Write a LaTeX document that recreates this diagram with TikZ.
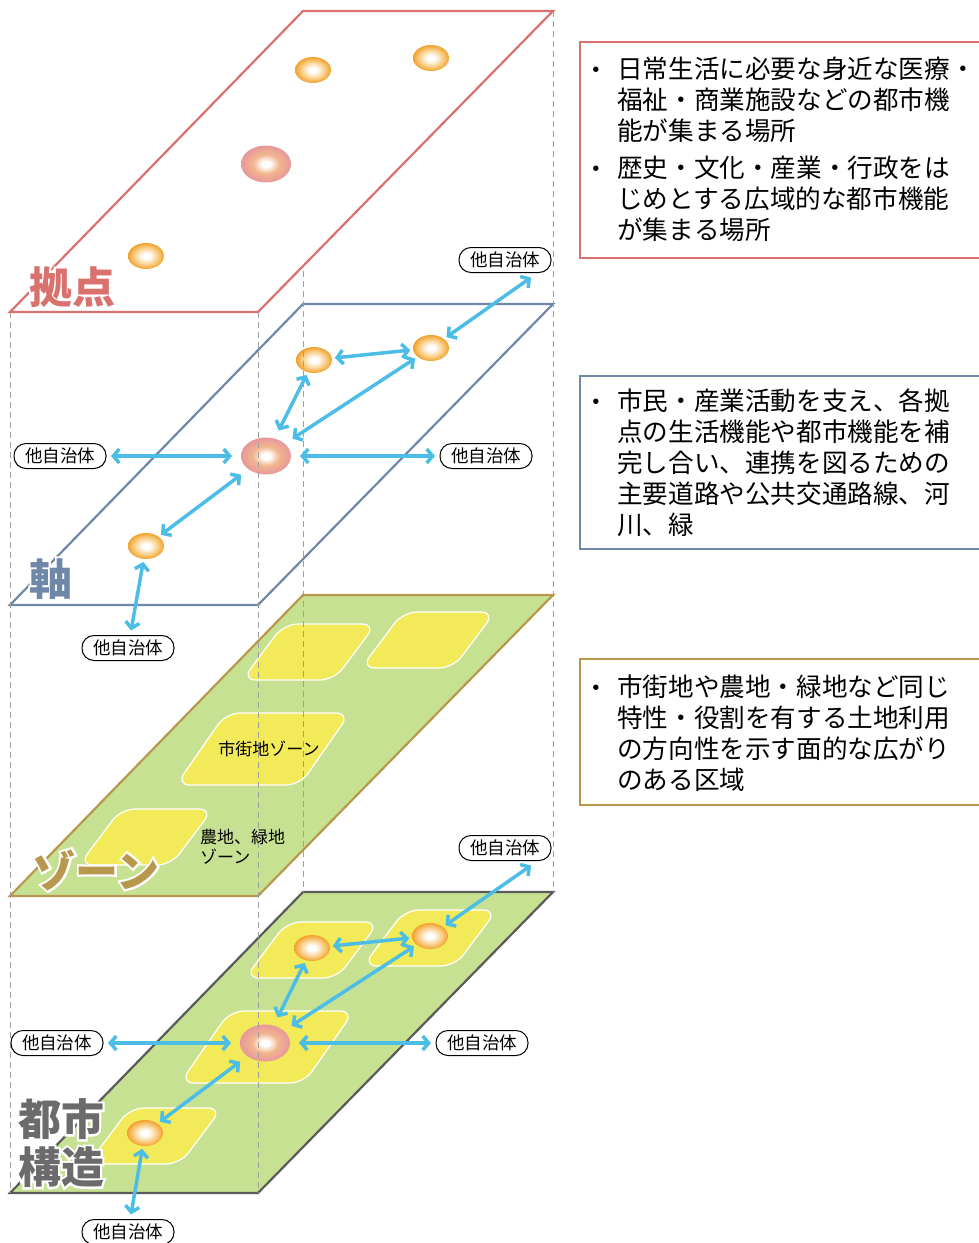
\documentclass[tikz,border=0pt]{standalone}
\usepackage{fontspec}
\setmainfont{Noto Sans CJK JP}
\newfontfamily\halofont{Noto Sans CJK JP}[FakeBold=10]
\usepackage{xcolor}
\usepackage{tikz}
\usetikzlibrary{positioning}
\usetikzlibrary{shapes.geometric, arrows.meta}

\definecolor{hubred}{HTML}{D9716F}
\definecolor{axisblue}{HTML}{7088A8}
\definecolor{zonegold}{HTML}{B8984C}
\definecolor{citygray}{HTML}{5A5A5A}
\definecolor{titlegray}{HTML}{6B6B6B}
\definecolor{cityfill}{HTML}{C7E193}
\definecolor{zoneyellow}{HTML}{F2EA58}
\definecolor{linkblue}{HTML}{4BBDE6}
\definecolor{orangeout}{HTML}{F3A12C}
\definecolor{orangemid}{HTML}{F8CB80}
\definecolor{pinkout}{HTML}{E7979B}
\definecolor{pinkmid}{HTML}{F2B68E}

\pgfdeclareradialshading{orangeball}{\pgfpoint{0bp}{0bp}}{color(0bp)=(white); color(5bp)=(white); color(17bp)=(orangemid); color(25bp)=(orangeout); color(50bp)=(orangeout)}
\pgfdeclareradialshading{pinkball}{\pgfpoint{0bp}{0bp}}{color(0bp)=(white); color(4bp)=(white); color(13bp)=(pinkmid); color(25bp)=(pinkout); color(50bp)=(pinkout)}

% one layer of the stack, #1 = top edge
\newcommand{\plate}[1]{(10,#1+301) -- (258,#1+301) -- (553,#1) -- (303,#1) -- cycle}
% land-use patch: centre x, centre y, half width, half height, skew
\newcommand{\zone}[5]{\draw[zonepatch] (#1-#3-#5,#2+#4) -- (#1+#3-#5,#2+#4) -- (#1+#3+#5,#2-#4) -- (#1-#3+#5,#2-#4) -- cycle;}

\begin{document}
\begin{tikzpicture}[x=1pt, y=-1pt,
    plate/.style = {line width=2.2pt},% layer outline
    zonepatch/.style = {fill=zoneyellow, draw=white, line width=1.2pt, rounded corners=14pt},
    guide/.style = {draw=gray!75, line width=1pt, dash pattern=on 6pt off 4pt},
    hub/.style = {ellipse, minimum width=36pt, minimum height=26pt, inner sep=0pt, outer sep=3pt, shade, shading=orangeball},
    core/.style = {hub, minimum width=50pt, minimum height=37pt, outer sep=9pt, shading=pinkball},
    tag/.style = {draw, line width=1pt, fill=white, rounded corners=12pt, minimum width=92pt, minimum height=25pt, inner sep=1pt, outer sep=5pt, font=\fontsize{17.5}{17.5}\selectfont},
    link/.style = {<->, >={Straight Barb[length=6pt,width=14pt]}, draw=linkblue, line width=3.5pt},
    title/.style = {inner sep=0pt, align=center, font=\fontsize{43}{48}\selectfont\bfseries},
    halo/.style = {title, text=white, font=\halofont\fontsize{43}{48}\selectfont\bfseries},
    note/.style = {anchor=north west, align=left, inner sep=0pt, font=\fontsize{25.6}{31}\selectfont},
    dot/.style = {inner sep=0pt, font=\fontsize{25.6}{31}\selectfont}
    ]
    \useasboundingbox (0,0) rectangle (979,1243);

    % lower layers
    \draw[plate, draw=axisblue] \plate{304};
    \draw[plate, draw=zonegold, fill=cityfill] \plate{595};
    \draw[plate, draw=citygray, fill=cityfill] \plate{892};

    % zones
    \zone{309}{652}{46}{28}{21}
    \zone{428}{640}{46}{28}{21}
    \zone{263}{749}{62}{36}{25}
    \zone{146}{837}{46}{28}{21}
    \zone{312}{950}{46}{28}{21}
    \zone{430}{938}{46}{28}{21}
    \zone{267}{1047}{62}{36}{25}
    \zone{155}{1136}{46}{28}{21}

    % hubs on the axis layer and the city layer
    \node (A2) [hub] at (314,360) {};
    \node (B2) [hub] at (431,348) {};
    \node (P2) [core] at (266,456) {};
    \node (C2) [hub] at (146,546) {};
    \node (A4) [hub] at (312,948) {};
    \node (B4) [hub] at (430,936) {};
    \node (P4) [core] at (265,1043) {};
    \node (C4) [hub] at (145,1133) {};

    % dashed guides
    \draw[guide] (10,312) -- (10,1193);
    \draw[guide] (258,312) -- (258,1193);
    \draw[guide] (303,11) -- (303,892);
    \draw[guide] (553,11) -- (553,892);

    % top layer
    \draw[plate, draw=hubred, fill=white] \plate{11};
    \node (A1) [hub] at (313,70) {};
    \node (B1) [hub] at (431,58) {};
    \node (P1) [core] at (266,164) {};
    \node (C1) [hub] at (146,256) {};

    % other municipalities
    \node (tr2) [tag] at (505,260) {他自治体};
    \node (w2) [tag] at (60,456) {他自治体};
    \node (e2) [tag] at (486,456) {他自治体};
    \node (s2) [tag] at (128,648) {他自治体};
    \node (tr4) [tag] at (505,848) {他自治体};
    \node (w4) [tag] at (57,1043) {他自治体};
    \node (e4) [tag] at (482,1043) {他自治体};
    \node (s4) [tag] at (128,1232) {他自治体};

    \draw[link] (A2) -- (B2);
    \draw[link] (B2) -- ([xshift=26pt]tr2.south);
    \draw[link] (A2) -- (P2);
    \draw[link] (B2) -- (P2);
    \draw[link] (w2) -- (P2);
    \draw[link] (P2) -- (e2);
    \draw[link] (P2) -- (C2);
    \draw[link] (C2) -- (s2);

    \draw[link] (A4) -- (B4);
    \draw[link] (B4) -- ([xshift=26pt]tr4.south);
    \draw[link] (A4) -- (P4);
    \draw[link] (B4) -- (P4);
    \draw[link] (w4) -- (P4);
    \draw[link] (P4) -- (e4);
    \draw[link] (P4) -- (C4);
    \draw[link] (C4) -- (s4);

    % zone names
    \node (urban) [inner sep=0pt, font=\fontsize{17}{20}\selectfont] at (269,749) {市街地ゾーン};
    \node (green) [anchor=west, align=left, inner sep=0pt, font=\fontsize{17}{20}\selectfont] at (200,847) {農地、緑地\\ゾーン};

    % layer titles, white halo below
    \node [halo] at (72,287) {拠点};
    \node (t1) [title, text=hubred] at (72,287) {拠点};
    \node [halo] at (51,579) {軸};
    \node (t2) [title, text=axisblue] at (51,579) {軸};
    \node [halo] at (96,870) {ゾーン};
    \node (t3) [title, text=zonegold] at (96,870) {ゾーン};
    \node [halo] at (61,1143) {都市\\構造};
    \node (t4) [title, text=titlegray] at (61,1143) {都市\\構造};

    % notes
    \draw[hubred, line width=2pt] (580,42) rectangle (995,258);
    \draw[axisblue, line width=2pt] (580,376) rectangle (995,549);
    \draw[zonegold, line width=2pt] (580,659) rectangle (995,805);
    \node (d1) [dot] at (596,73) {・};
    \node (n1) [note] at (617,57) {日常生活に必要な身近な医療・\\福祉・商業施設などの都市機\\能が集まる場所};
    \node (d2) [dot] at (596,172) {・};
    \node (n2) [note] at (617,156) {歴史・文化・産業・行政をは\\じめとする広域的な都市機能\\が集まる場所};
    \node (d3) [dot] at (596,405) {・};
    \node (n3) [note] at (617,389) {市民・産業活動を支え、各拠\\点の生活機能や都市機能を補\\完し合い、連携を図るための\\主要道路や公共交通路線、河\\川、緑};
    \node (d4) [dot] at (596,691) {・};
    \node (n4) [note] at (617,675) {市街地や農地・緑地など同じ\\特性・役割を有する土地利用\\の方向性を示す面的な広がり\\のある区域};
\end{tikzpicture}
\end{document}
